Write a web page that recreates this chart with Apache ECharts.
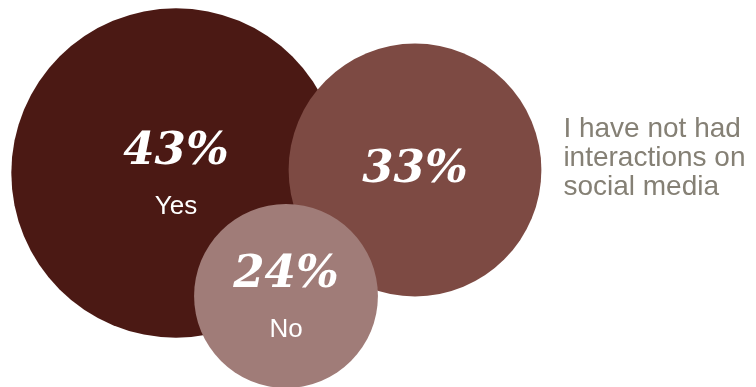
<!DOCTYPE html>
<html>
<head>
<meta charset="utf-8">
<script src="https://cdn.jsdelivr.net/npm/echarts@6/dist/echarts.min.js"></script>
<style>
  html, body { margin: 0; padding: 0; background: #ffffff; }
  #chart { width: 756px; height: 387px; }
</style>
</head>
<body>
<div id="chart"></div>
<script>
// ---- data ----
const categories = ['Yes', 'I have not had\ninteractions on\nsocial media', 'No'];
const values = [43, 33, 24];

// ---- layout / style (not data) ----
const centers = [[176, 173], [415, 170], [286, 296]];
const colors = ['#4b1914', '#7d4a43', '#a07c78'];
const nameInside = [true, false, true];
const DIAM_PER_POINT = 7.66;

const chart = echarts.init(document.getElementById('chart'), null, { renderer: 'canvas' });

const circleData = values.map((v, i) => ({
  name: categories[i],
  value: [centers[i][0], centers[i][1], v],
  itemStyle: { color: colors[i], opacity: 1 }
}));

const outsideData = values.map((v, i) => ({
  name: categories[i],
  value: [centers[i][0], centers[i][1], v],
  itemStyle: { color: 'rgba(0,0,0,0)', opacity: 1 },
  label: { show: !nameInside[i] }
}));

chart.setOption({
  animation: false,
  backgroundColor: '#ffffff',
  grid: { left: 0, right: 0, top: 0, bottom: 0 },
  xAxis: { type: 'value', min: 0, max: 756, show: false },
  yAxis: { type: 'value', min: 0, max: 387, inverse: true, show: false },
  series: [
    {
      type: 'scatter',
      symbol: 'circle',
      symbolSize: (val) => val[2] * DIAM_PER_POINT,
      data: circleData,
      silent: true,
      itemStyle: { opacity: 1 },
      label: {
        show: true,
        position: 'inside',
        opacity: 1,
        formatter: (p) => {
          const i = p.dataIndex;
          return nameInside[i]
            ? `{pct|${p.value[2]}%}\n{name|${p.name}}`
            : `{pct1|${p.value[2]}%}`;
        },
        rich: {
          pct: {
            fontFamily: 'DejaVu Serif', fontWeight: 'bold', fontStyle: 'italic',
            fontSize: 45, color: '#ffffff', lineHeight: 68, align: 'center'
          },
          pct1: {
            fontFamily: 'DejaVu Serif', fontWeight: 'bold', fontStyle: 'italic',
            fontSize: 45, color: '#ffffff', lineHeight: 52, align: 'center'
          },
          name: {
            fontFamily: 'Liberation Sans', fontSize: 26, color: '#ffffff',
            lineHeight: 42, align: 'center'
          }
        }
      }
    },
    {
      type: 'scatter',
      symbol: 'circle',
      symbolSize: (val) => val[2] * DIAM_PER_POINT,
      data: outsideData,
      silent: true,
      z: 1,
      label: {
        position: 'right',
        distance: 22,
        offset: [0, -12],
        formatter: (p) => p.name,
        fontFamily: 'Liberation Sans',
        fontSize: 28,
        lineHeight: 29,
        color: '#858075',
        align: 'left',
        opacity: 1
      }
    }
  ]
});
</script>
</body>
</html>
